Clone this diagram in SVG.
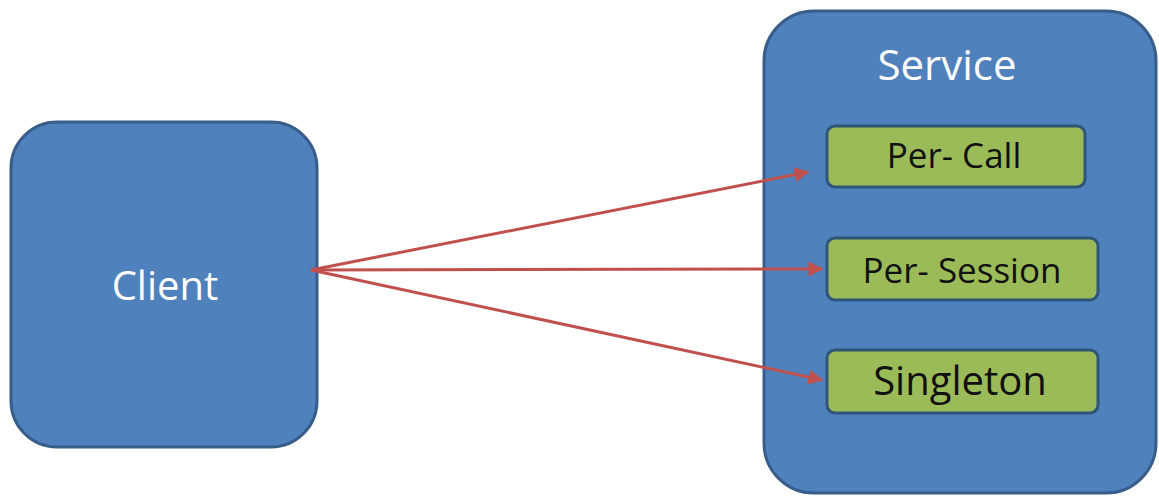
<svg xmlns="http://www.w3.org/2000/svg" width="1159" height="496" viewBox="0 0 1159 496">
<style>
.blue{fill:#4f81bd;stroke:#385d8a;stroke-width:3}
.green{fill:#9bbb59;stroke:#2f5578;stroke-width:3}
.wt{font-family:"Open Sans","Liberation Sans",sans-serif;fill:#ffffff;text-anchor:middle}
.bt{font-family:"Open Sans","Liberation Sans",sans-serif;fill:#111111;text-anchor:middle}
.conn{stroke:#c0504d;stroke-width:3;fill:none;marker-end:url(#ah)}
</style>
<defs>
<marker id="ah" viewBox="0 0 10 10" refX="9" refY="5" markerWidth="5" markerHeight="5" orient="auto" markerUnits="strokeWidth">
<path d="M0,0 L10,5 L0,10 z" fill="#c0504d"/>
</marker>
</defs>
<rect width="1159" height="496" fill="#ffffff"/>
<g id="client">
<rect class="blue" x="11" y="122" width="306" height="325" rx="46" ry="46"/>
<text class="wt" x="165" y="300" font-size="40">Client</text>
</g>
<g id="service">
<rect class="blue" x="764" y="11" width="392" height="482" rx="50" ry="50"/>
<text class="wt" x="947" y="80" font-size="42">Service</text>
</g>
<g id="per-call">
<rect class="green" x="827" y="126" width="258" height="61" rx="8" ry="8"/>
<text class="bt" x="954" y="168" font-size="35">Per- Call</text>
</g>
<g id="per-session">
<rect class="green" x="827" y="238" width="271" height="62" rx="8" ry="8"/>
<text class="bt" x="962" y="283" font-size="35">Per- Session</text>
</g>
<g id="singleton">
<rect class="green" x="827" y="350" width="271" height="63" rx="8" ry="8"/>
<text class="bt" x="960" y="395" font-size="40">Singleton</text>
</g>
<g id="connectors">
<line class="conn" x1="311" y1="270" x2="808" y2="172"/>
<line class="conn" x1="311" y1="270" x2="822" y2="269"/>
<line class="conn" x1="311" y1="270" x2="822" y2="380"/>
</g>
</svg>
